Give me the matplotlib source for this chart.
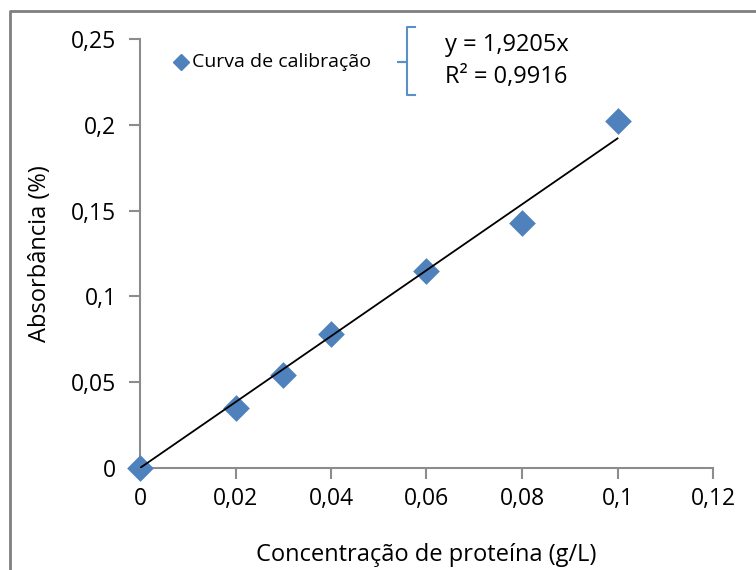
import matplotlib.pyplot as plt
from matplotlib.lines import Line2D

plt.rcParams['font.family'] = ['Open Sans', 'DejaVu Sans']

# Data
conc = [0, 0.02, 0.03, 0.04, 0.06, 0.08, 0.1]
absorb = [0, 0.035, 0.054, 0.078, 0.115, 0.143, 0.202]
slope = 1.9205
r2 = 0.9916
xticks = [0, 0.02, 0.04, 0.06, 0.08, 0.1, 0.12]
yticks = [0, 0.05, 0.1, 0.15, 0.2, 0.25]


def comma(v):
    s = ('%g' % v).replace('.', ',')
    return s


fig = plt.figure(figsize=(7.56, 5.70), dpi=100)
ax = fig.add_axes([140 / 756, 1 - 468 / 570, 573 / 756, 429 / 570])

blue = '#4f81bd'
ax.scatter(conc, absorb, marker='D', s=185, color=blue, zorder=3, clip_on=False,
           linewidths=0)
ax.plot([0, max(conc)], [0, slope * max(conc)], color='black', lw=1.3, zorder=4)

ax.set_xlim(0, 0.12)
ax.set_ylim(0, 0.25)
ax.set_xticks(xticks)
ax.set_yticks(yticks)
ax.set_xticklabels([comma(v) for v in xticks])
ax.set_yticklabels([comma(v) for v in yticks])

for s in ['top', 'right']:
    ax.spines[s].set_visible(False)
for s in ['left', 'bottom']:
    ax.spines[s].set_color('#8c8c8c')
    ax.spines[s].set_linewidth(1.5)
ax.tick_params(direction='out', length=8, width=1.5, color='#8c8c8c',
               labelsize=16.5, pad=6)
ax.tick_params(axis='y', pad=9)

ax.set_xlabel('Concentração de proteína (g/L)', fontsize=17, labelpad=23)
ax.set_ylabel('Absorbância (%)', fontsize=17, labelpad=14)

# Legend
fig.add_artist(Line2D([181 / 756], [1 - 62 / 570], marker='D', markersize=8,
                      color=blue, transform=fig.transFigure))
fig.text(192 / 756, 1 - 62 / 570, 'Curva de calibração', fontsize=14,
         va='center', ha='left')

# Brace and equation
bx = [415, 407, 407, 398, 407, 407, 415]
by = [27, 27, 62, 62, 62, 95, 95]
fig.add_artist(Line2D([x / 756 for x in bx], [1 - y / 570 for y in by],
                      color='#5b8fc9', lw=1.5, transform=fig.transFigure))
fig.text(445 / 756, 1 - 45 / 570, 'y = %sx' % comma(slope), fontsize=17,
         va='center', ha='left')
fig.text(445 / 756, 1 - 77 / 570, 'R² = %s' % comma(r2), fontsize=17,
         va='center', ha='left')

# Outer border
fig.add_artist(Line2D([10 / 756, 10 / 756, 1.0], [0, 1 - 11 / 570, 1 - 11 / 570],
                      color='#7f7f7f', lw=2, transform=fig.transFigure))

fig.savefig('out.png', dpi=100)
